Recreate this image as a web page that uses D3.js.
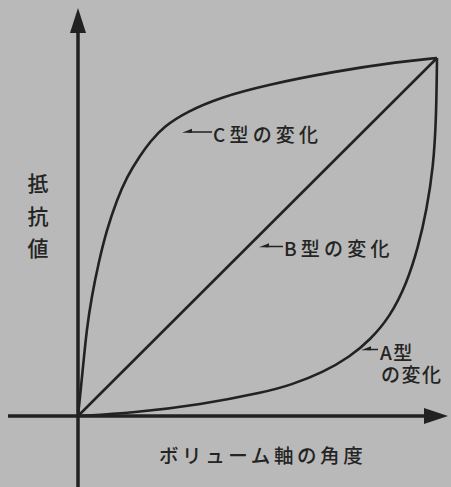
<!DOCTYPE html>
<html><head><meta charset="utf-8">
<script src="https://cdn.jsdelivr.net/npm/d3@7"></script>
<style>
html,body{margin:0;padding:0;background:#b9b9b9;}
svg{display:block;}
text{font-family:"Noto Sans CJK JP","Noto Sans",sans-serif;fill:#242424;font-weight:500;}
</style></head>
<body>
<script>
// Normalized data (x: shaft angle 0..1, y: resistance 0..1)
const seriesA_x = [0, 0.154, 0.34, 0.526, 0.591, 0.683, 0.758, 0.813, 0.869, 0.916, 0.948, 0.971, 0.99, 0.998, 1];
const seriesA_y = [0, 0.009, 0.031, 0.068, 0.086, 0.122, 0.166, 0.212, 0.277, 0.371, 0.473, 0.575, 0.696, 0.836, 1];
const seriesB_x = [0, 1];
const seriesB_y = [0, 1];
const seriesC_x = [0, 0.0075, 0.015, 0.024, 0.038, 0.057, 0.08, 0.108, 0.136, 0.173, 0.201, 0.238, 0.303, 0.396, 0.526, 0.711, 0.897, 1];
const seriesC_y = [0, 0.073, 0.147, 0.24, 0.333, 0.427, 0.52, 0.603, 0.668, 0.728, 0.766, 0.808, 0.85, 0.89, 0.925, 0.962, 0.99, 1];
const yLabel = ["抵", "抗", "値"];
const xLabel = "ボリューム軸の角度";
const labelC = "C型の変化";
const labelB = "B型の変化";
const labelA = ["A型", "の変化"];

const W = 451, H = 487;
const svg = d3.select("body").append("svg").attr("width", W).attr("height", H);
svg.append("rect").attr("width", W).attr("height", H).attr("fill", "#b9b9b9");

const x = d3.scaleLinear().domain([0, 1]).range([78, 437]);
const y = d3.scaleLinear().domain([0, 1]).range([416, 58]);
const ink = "#222";

// Axes
svg.append("line").attr("x1", 8).attr("x2", 428).attr("y1", y(0)).attr("y2", y(0))
  .attr("stroke", ink).attr("stroke-width", 3.5);
svg.append("line").attr("x1", x(0)).attr("x2", x(0)).attr("y1", 30).attr("y2", H)
  .attr("stroke", ink).attr("stroke-width", 3.5);
svg.append("path").attr("d", `M${x(0)},8 L${x(0)-8},33 L${x(0)+8},33 Z`).attr("fill", ink);
svg.append("path").attr("d", `M448,${y(0)} L424,${y(0)-8} L424,${y(0)+8} Z`).attr("fill", ink);

// Curves
const line = d3.line().x(d => x(d[0])).y(d => y(d[1])).curve(d3.curveBasis);
const zip = (a, b) => a.map((v, i) => [v, b[i]]);
[[seriesA_x, seriesA_y], [seriesB_x, seriesB_y], [seriesC_x, seriesC_y]].forEach(([sx, sy]) => {
  svg.append("path").attr("d", line(zip(sx, sy))).attr("fill", "none")
    .attr("stroke", ink).attr("stroke-width", 2.6).attr("stroke-linejoin", "round");
});

// Leader arrows
function leader(x1, x2, yy) {
  svg.append("line").attr("x1", x1 + 6).attr("x2", x2).attr("y1", yy).attr("y2", yy)
    .attr("stroke", ink).attr("stroke-width", 1.5);
  svg.append("path").attr("d", `M${x1},${yy+0.8} L${x1+10},${yy-3.2} L${x1+10},${yy+0.8} Z`).attr("fill", ink);
}
leader(182, 212, 132);
leader(259, 283, 246.5);
leader(361, 378, 349.5);

function label(txt, tx, ty, size, spacing) {
  svg.append("text").attr("x", tx).attr("y", ty).attr("dominant-baseline", "central")
    .attr("font-size", size).attr("letter-spacing", spacing).text(txt);
}
label(labelC, 213, 133, 19, 4.2);
label(labelB, 284, 247.5, 19, 4.2);
const ta = svg.append("text").attr("font-size", 19).attr("letter-spacing", 1.5)
  .attr("dominant-baseline", "central");
ta.append("tspan").attr("x", 380).attr("y", 351).text(labelA[0]);
ta.append("tspan").attr("x", 381).attr("y", 373).text(labelA[1]);

// Axis titles
yLabel.forEach((c, i) => {
  svg.append("text").attr("x", 38).attr("y", 182 + i * 32.5).attr("text-anchor", "middle")
    .attr("dominant-baseline", "central").attr("font-size", 21).text(c);
});
label(xLabel, 159, 454, 19.5, 3.6);
</script>
</body></html>
